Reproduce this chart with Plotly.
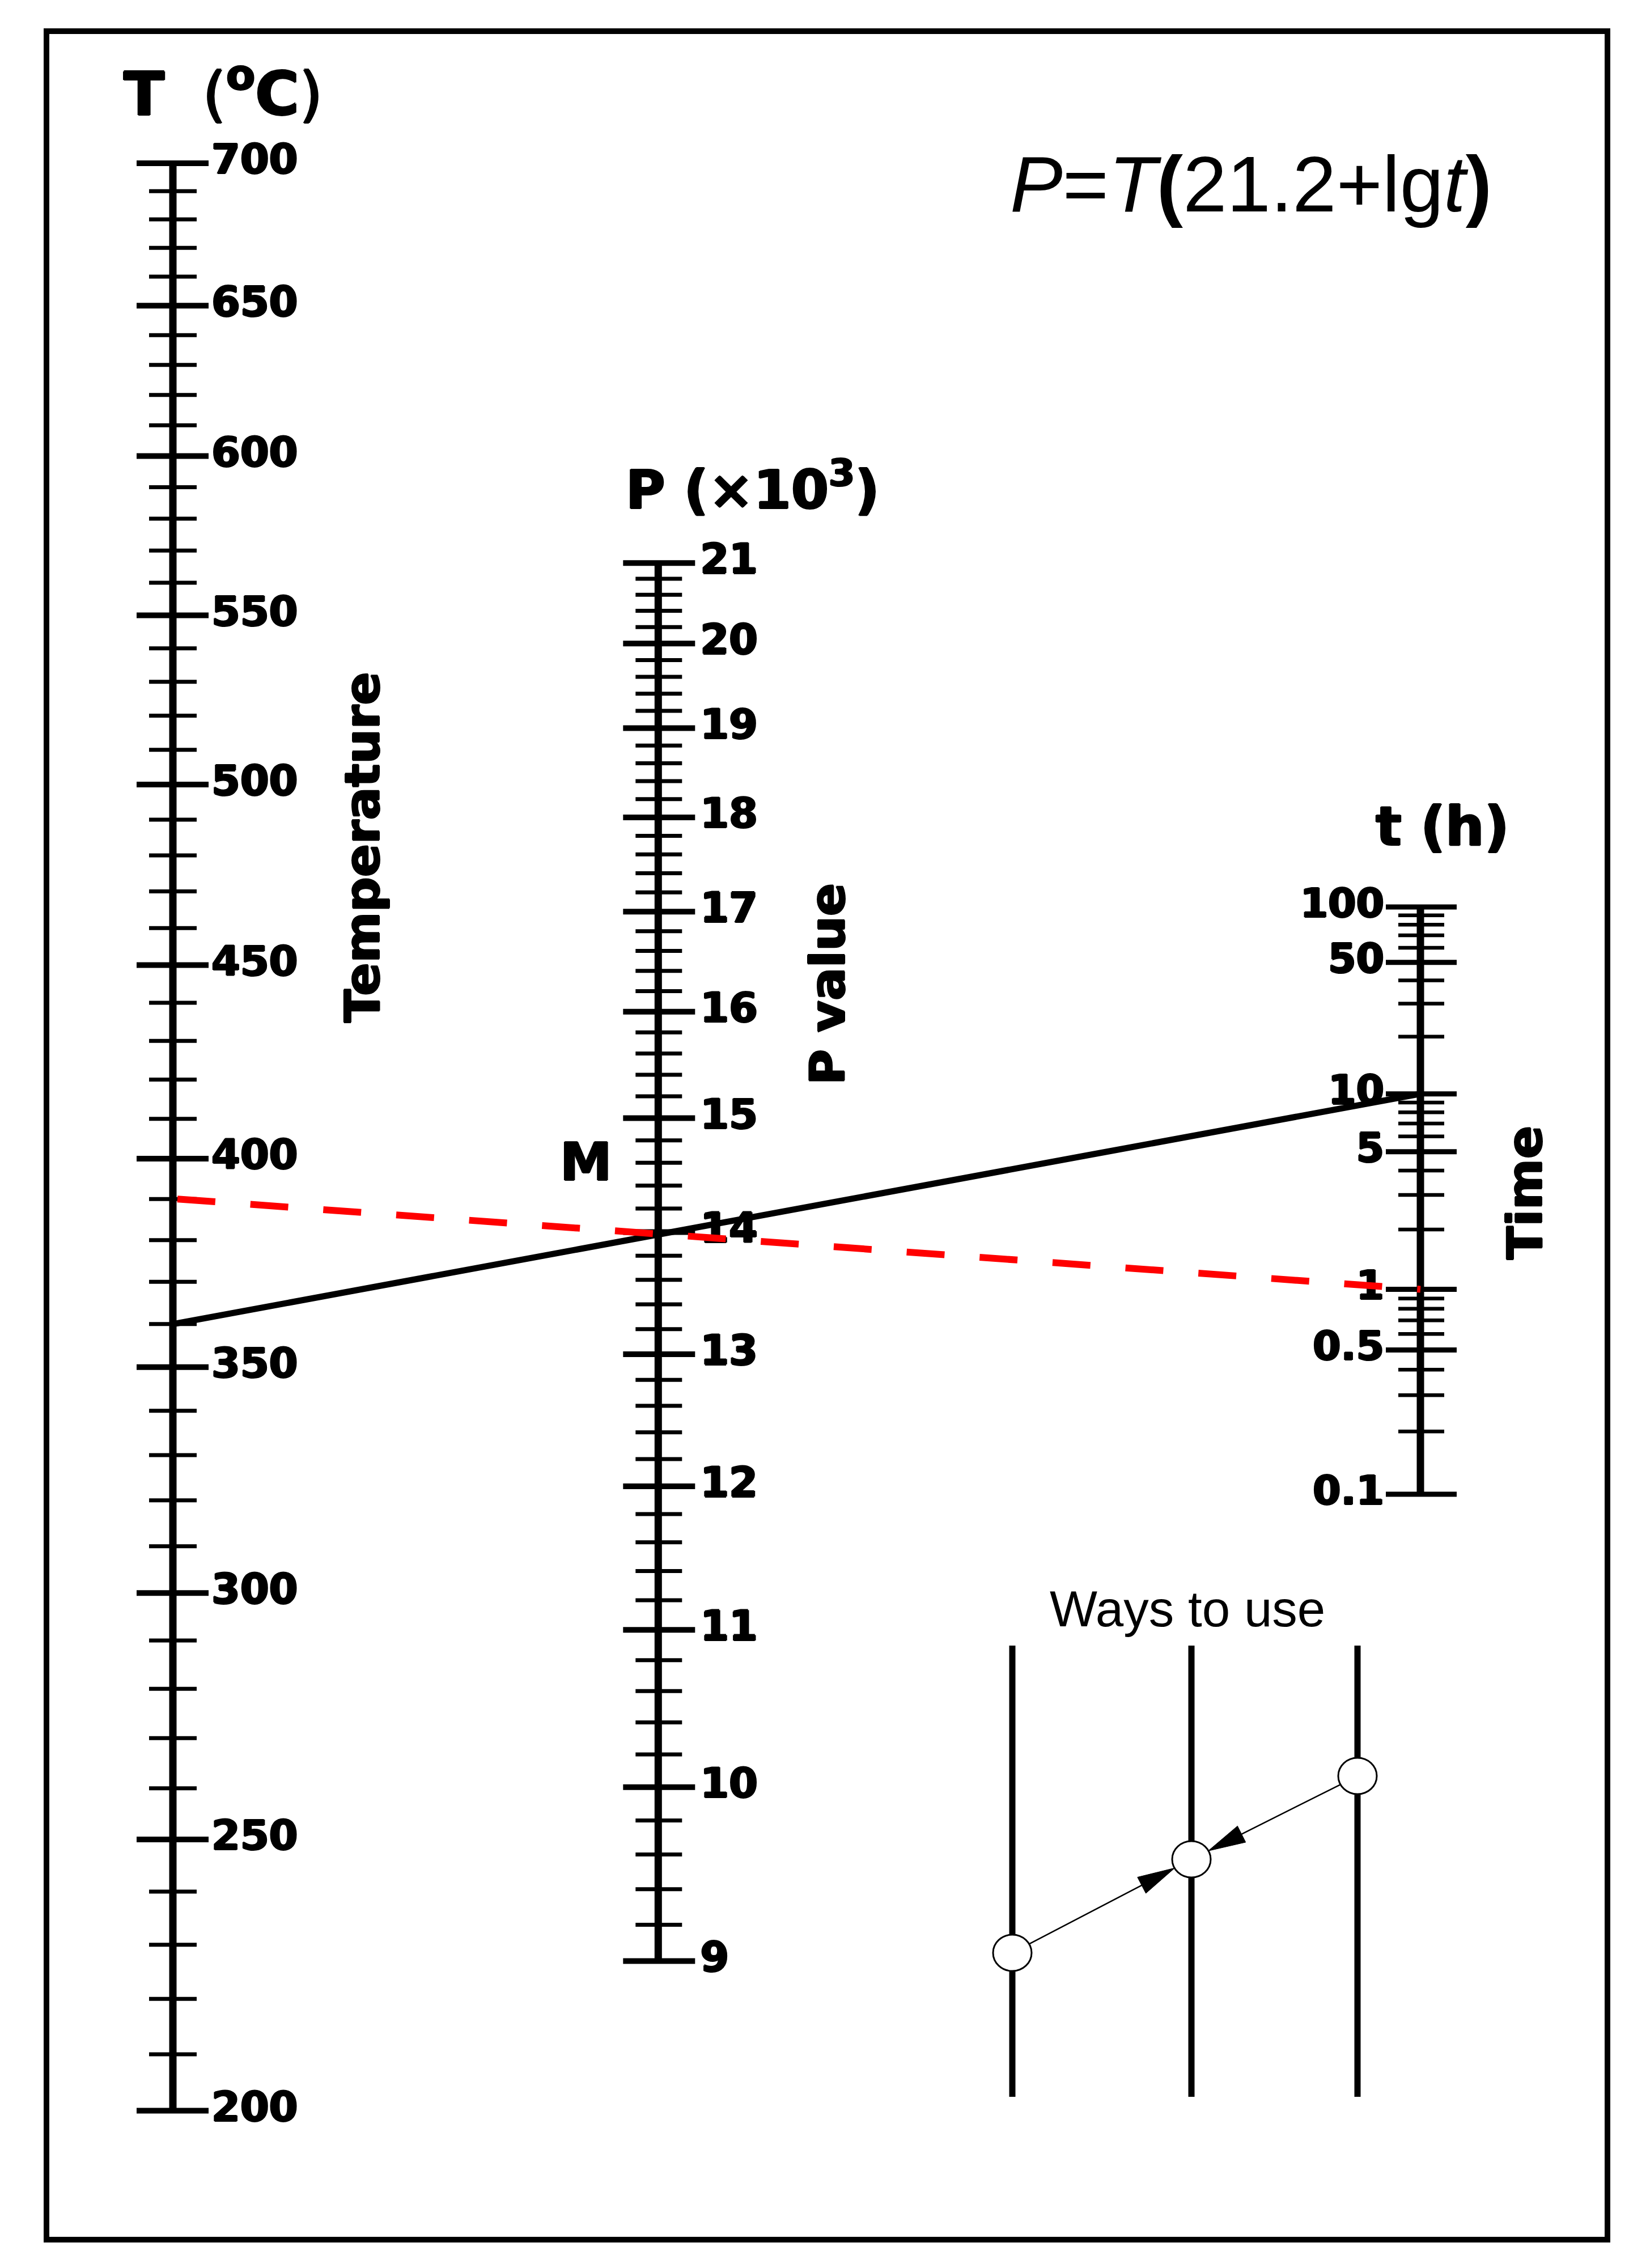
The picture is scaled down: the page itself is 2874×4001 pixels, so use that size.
import numpy as np
import plotly.graph_objects as go

# ---------------- data ----------------
T_major = [200, 250, 300, 350, 400, 450, 500, 550, 600, 650, 700]          # deg C
T_minor = [v for v in range(200, 701, 10) if v % 50 != 0]
P_major = [9, 10, 11, 12, 13, 14, 15, 16, 17, 18, 19, 20, 21]               # x10^3
P_minor = [round(9 + 0.2 * i, 1) for i in range(61) if i % 5 != 0]
t_major = [0.1, 0.5, 1, 5, 10, 50, 100]                                       # h
t_major_labels = ["0.1", "0.5", "1", "5", "10", "50", "100"]
t_minor = [0.2, 0.3, 0.4, 0.6, 0.7, 0.8, 0.9, 2, 3, 4, 6, 7, 8, 9,
           20, 30, 40, 60, 70, 80, 90]
example_T = [360, 390]        # deg C  (black solid, red dashed)
example_t = [10, 1]           # h
C_LM = 21.2                   # Larson-Miller constant

# ---------------- nomogram geometry (pixels of the canvas) ----------------
W, H = 2874, 4001
X_T, X_t = 297, 2498
Y_T_TOP, M_T = 280, 10970      # T scale: top at 700 C, modulus px/decade
Y_t_TOP, M_t = 1592, 17227     # t scale: top at 100 h
P_SHIFT = -16

f = M_T / (M_T + M_t)
X_P = X_T + f * (X_t - X_T)
M_P = M_T * M_t / (M_T + M_t)


def yT(T):
    return Y_T_TOP + M_T * (np.log10(700 + 273.15) - np.log10(np.asarray(T, float) + 273.15))


def yt(t):
    g = C_LM + np.log10(np.asarray(t, float))
    return Y_t_TOP + M_t * (np.log10(C_LM + 2) - np.log10(g))


def yP(P):
    c = (1 - f) * Y_T_TOP + f * Y_t_TOP
    return c + M_P * (np.log10(973.15 * (C_LM + 2)) - np.log10(np.asarray(P, float) * 1000)) + P_SHIFT


def seg_trace(xc, ys, left, right, width):
    xs, yy = [], []
    for y in np.atleast_1d(ys):
        xs += [xc - left, xc + right, None]
        yy += [y, y, None]
    return go.Scatter(x=xs, y=yy, mode="lines", line=dict(color="black", width=width),
                      hoverinfo="skip", showlegend=False)


HEAVY = "1.6px 0px 0px black, -1.6px 0px 0px black, 0px 1.2px 0px black, 0px -1.2px 0px black"
BOLD = dict(family="DejaVu Sans", color="black", weight="bold", shadow=HEAVY)

fig = go.Figure()

# axis lines
for xc, y0, y1 in [(X_T, yT(700), yT(200)), (X_P, yP(21), yP(9)), (X_t, yt(100), yt(0.1))]:
    fig.add_trace(go.Scatter(x=[xc, xc], y=[y0, y1], mode="lines",
                             line=dict(color="black", width=13), hoverinfo="skip", showlegend=False))

# ticks
fig.add_trace(seg_trace(X_T, yT(T_major), 64, 63, 10))
fig.add_trace(seg_trace(X_T, yT(T_minor), 42, 42, 7))
fig.add_trace(seg_trace(X_P, yP(P_major), 62, 65, 10))
fig.add_trace(seg_trace(X_P, yP(P_minor), 40, 42, 7))
fig.add_trace(seg_trace(X_t, yt(t_major), 61, 64, 9))
fig.add_trace(seg_trace(X_t, yt(t_minor), 39, 42, 6.5))

# tick labels
fig.add_trace(go.Scatter(x=[X_T + 68] * len(T_major), y=yT(T_major), mode="text",
                         text=[str(v) for v in T_major], textposition="middle right",
                         textfont=dict(size=73, **BOLD), hoverinfo="skip", showlegend=False))
fig.add_trace(go.Scatter(x=[X_P + 74] * len(P_major), y=yP(P_major), mode="text",
                         text=[str(v) for v in P_major], textposition="middle right",
                         textfont=dict(size=73, **BOLD), hoverinfo="skip", showlegend=False))
fig.add_trace(go.Scatter(x=[X_t - 64] * len(t_major), y=yt(t_major), mode="text",
                         text=t_major_labels, textposition="middle left",
                         textfont=dict(size=71, **BOLD), hoverinfo="skip", showlegend=False))

# example lines (on top)
fig.add_trace(go.Scatter(x=[X_T, X_t], y=[yT(example_T[0]), yt(example_t[0])], mode="lines",
                         line=dict(color="black", width=11), hoverinfo="skip", showlegend=False))
fig.add_trace(go.Scatter(x=[X_T + 8, X_t], y=[yT(example_T[1]), yt(example_t[1])], mode="lines",
                         line=dict(color="#ff0000", width=12, dash="67px,62px"),
                         hoverinfo="skip", showlegend=False))

shapes = []
# frame
shapes.append(dict(type="rect", xref="x", yref="y", x0=74, y0=47, x1=2828, y1=3943,
                   line=dict(color="black", width=10), layer="below"))

# inset "Ways to use"
ins_x = [1778, 2094, 2387]
ins_y = [3437, 3272, 3125]
for xc in ins_x:
    shapes.append(dict(type="line", xref="x", yref="y", x0=xc, x1=xc, y0=2895, y1=3691,
                       line=dict(color="black", width=11), layer="above"))
R = 33
HEAD_L, HEAD_W = 66, 16
for (xa, ya), (xb, yb) in [((ins_x[0], ins_y[0]), (ins_x[1], ins_y[1])),
                           ((ins_x[2], ins_y[2]), (ins_x[1], ins_y[1]))]:
    dx, dy = xb - xa, yb - ya
    L = np.hypot(dx, dy)
    ux, uy = dx / L, dy / L
    sx, sy = xa + ux * R, ya + uy * R
    tx, ty = xb - ux * R, yb - uy * R
    bx, by = tx - ux * HEAD_L, ty - uy * HEAD_L
    shapes.append(dict(type="line", xref="x", yref="y", x0=sx, y0=sy, x1=bx, y1=by,
                       line=dict(color="black", width=2.5), layer="above"))
    px, py = -uy, ux
    path = (f"M {tx:.1f},{ty:.1f} L {bx + px * HEAD_W:.1f},{by + py * HEAD_W:.1f} "
            f"L {bx - px * HEAD_W:.1f},{by - py * HEAD_W:.1f} Z")
    shapes.append(dict(type="path", xref="x", yref="y", path=path, fillcolor="black",
                       line=dict(color="black", width=1), layer="above"))
for xc, yc in zip(ins_x, ins_y):
    shapes.append(dict(type="circle", xref="x", yref="y", x0=xc - 34, x1=xc + 34,
                       y0=yc - 32, y1=yc + 32, fillcolor="white",
                       line=dict(color="black", width=3), layer="above"))

TITLE = dict(family="DejaVu Sans", color="black", shadow=HEAVY)
annotations = [
    dict(x=385, y=150, text="<b>T</b>  (<b><sup>o</sup>C</b>)",
         font=dict(size=106, **TITLE)),
    dict(x=1320, y=849, text="<b>P (×10<sup>3</sup>)</b>",
         font=dict(size=95, **TITLE)),
    dict(x=2536, y=1450, text="<b>t (h)</b>",
         font=dict(size=96, **TITLE)),
    dict(x=2199, y=316, text="<i>P</i>=<i>T</i><b>(</b>21.2+lg<i>t</i><b>)</b>",
         font=dict(family="Liberation Sans", size=139, color="black")),
    dict(x=1026, y=2042, text="<b>M</b>",
         font=dict(size=92, **TITLE)),
    dict(x=631, y=1487, text="<b>Temperature</b>", textangle=-90,
         font=dict(size=86, **TITLE)),
    dict(x=1452, y=1728, text="<b>P value</b>", textangle=-90,
         font=dict(size=86, **TITLE)),
    dict(x=2682, y=2096, text="<b>Time</b>", textangle=-90,
         font=dict(size=86, **TITLE)),
    dict(x=2087, y=2830, text="Ways to use",
         font=dict(family="Liberation Sans", size=89, color="black")),
]
for a in annotations:
    a.update(xref="x", yref="y", showarrow=False, xanchor="center", yanchor="middle")

fig.update_layout(
    width=W, height=H, margin=dict(l=0, r=0, t=0, b=0),
    paper_bgcolor="white", plot_bgcolor="white", showlegend=False,
    xaxis=dict(range=[0, W], visible=False, fixedrange=True),
    yaxis=dict(range=[H, 0], visible=False, fixedrange=True),
    shapes=shapes, annotations=annotations,
)
fig.write_html("out.html")
